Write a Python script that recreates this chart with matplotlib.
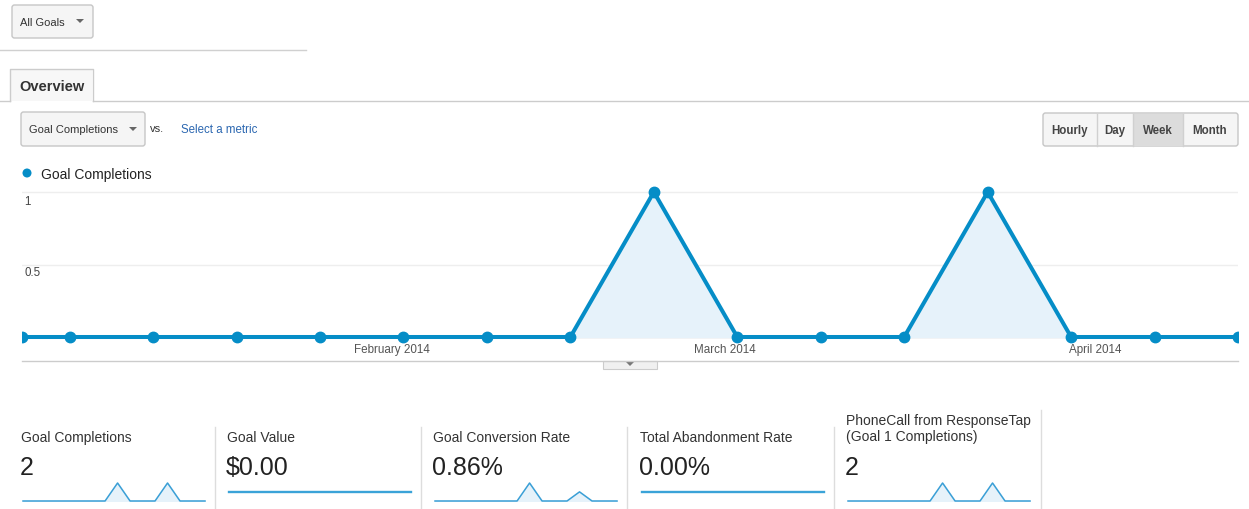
import matplotlib
matplotlib.use('Agg')
import matplotlib.pyplot as plt
from matplotlib.patches import FancyBboxPatch, Rectangle, Polygon, Circle
import pandas as pd

W, H = 1249, 510
DY = 1  # small vertical nudge in pixels

# weekly data (first point is the partial week starting Jan 1)
weeks = pd.to_datetime(['2014-01-01', '2014-01-05', '2014-01-12', '2014-01-19',
                        '2014-01-26', '2014-02-02', '2014-02-09', '2014-02-16',
                        '2014-02-23', '2014-03-02', '2014-03-09', '2014-03-16',
                        '2014-03-23', '2014-03-30', '2014-04-06', '2014-04-13'])
goal_completions = [0, 0, 0, 0, 0, 0, 0, 0, 1, 0, 0, 0, 1, 0, 0, 0]
goal_value = [0] * 16
conversion_rate = [0, 0, 0, 0, 0, 0, 0, 0, 6.7, 0, 0, 0, 3.4, 0, 0, 0]
abandonment_rate = [0] * 16
phone_calls = [0, 0, 0, 0, 0, 0, 0, 0, 1, 0, 0, 0, 1, 0, 0, 0]

month_ticks = pd.to_datetime(['2014-02-01', '2014-03-01', '2014-04-01'])
month_labels = ['February 2014', 'March 2014', 'April 2014']

card_titles = ['Goal Completions', 'Goal Value', 'Goal Conversion Rate',
               'Total Abandonment Rate', 'PhoneCall from ResponseTap\n(Goal 1 Completions)']
card_values = ['2', '$0.00', '0.86%', '0.00%', '2']
card_series = [goal_completions, goal_value, conversion_rate, abandonment_rate, phone_calls]

plt.rcParams['font.family'] = ['Liberation Sans', 'DejaVu Sans']

BLUE = '#058dc7'
FILL = '#e6f2fa'

fig = plt.figure(figsize=(W / 100, H / 100), dpi=100)


def px_axes(x0, y0, x1, y1):
    return fig.add_axes([x0 / W, 1 - (y1 + DY) / H, (x1 - x0) / W, (y1 - y0) / H])


bg = fig.add_axes([0, 0, 1, 1])
bg.set_xlim(0, W)
bg.set_ylim(H - DY, -DY)
bg.axis('off')


def box(x0, y0, x1, y1, fc='#f5f5f5', ec='#c6c6c6', r=2.5):
    bg.add_patch(FancyBboxPatch((x0, y0), x1 - x0, y1 - y0,
                                boxstyle=f'round,pad=0,rounding_size={r}',
                                fc=fc, ec=ec, lw=1))


def arrow(x, y, c='#666666'):
    bg.add_patch(Polygon([(x - 4, y - 2), (x + 4, y - 2), (x, y + 2)], fc=c, ec='none'))


# top controls
box(12, 5, 93, 38)
bg.text(20, 21.5, 'All Goals', fontsize=8, color='#333333', va='center')
arrow(80, 21)
bg.plot([0, 306], [50, 50], color='#d0d0d0', lw=1)

# Overview tab
bg.plot([0, 10], [101, 101], color='#cccccc', lw=1)
bg.plot([93, W], [101, 101], color='#cccccc', lw=1)
bg.plot([10, 10, 93, 93], [101, 69, 69, 101], color='#cccccc', lw=1)
bg.add_patch(Rectangle((10.5, 69.5), 82, 31.5, fc='#f7f7f7', ec='none'))
bg.text(19, 86, 'Overview', fontsize=10.5, fontweight='bold', color='#333333', va='center')

# metric selector
box(21, 112, 145, 146)
bg.text(29, 129.5, 'Goal Completions', fontsize=8, color='#333333', va='center')
arrow(133, 129)
bg.text(150, 128, 'vs.', fontsize=8, color='#333333', va='center')
bg.text(181, 129.5, 'Select a metric', fontsize=8.3, color='#2a66b0', va='center')

# time buttons
box(1043, 113, 1238, 146)
bg.add_patch(Rectangle((1133, 113.5), 50, 32, fc='#dcdcdc', ec='none'))
for xs in [1097, 1133, 1183]:
    bg.plot([xs, xs], [113.5, 145.5], color='#d0d0d0', lw=1)
for label, cx in zip(['Hourly', 'Day', 'Week', 'Month'], [1070, 1115, 1158, 1210]):
    bg.text(cx, 130, label, fontsize=8.3, fontweight='bold', color='#444444',
            ha='center', va='center')

# legend
bg.add_patch(Circle((27, 173), 4.5, fc=BLUE, ec='none'))
bg.text(41, 174, 'Goal Completions', fontsize=10, color='#222222', va='center')

# bottom border of chart + toggle tab
bg.plot([22, 1238], [361, 361], color='#cccccc', lw=1)
bg.add_patch(Rectangle((603, 361), 54, 8, fc='#f0f0f0', ec='#cccccc', lw=0.8))
arrow(630, 364, '#777777')

# main chart
ax = px_axes(22, 182, 1238, 347)
ax.set_facecolor('none')
ax.set_xlim(weeks[0], weeks[-1])
ax.set_ylim(-10 / 145, 1 + 10 / 145)
ax.axhline(1, color='#eeeeee', lw=1, zorder=0)
ax.axhline(0.5, color='#eeeeee', lw=1, zorder=0)
ax.axhline(0, color='#444444', lw=0.8, zorder=1)
ax.fill_between(weeks, goal_completions, color=FILL, zorder=1)
ax.plot(weeks, goal_completions, color=BLUE, lw=2.9, marker='o', ms=7.5,
        solid_joinstyle='miter', zorder=3)
ax.text(0.002, 1 - 9 / 145, '1', transform=ax.get_yaxis_transform(),
        fontsize=8.3, color='#444444', va='center')
ax.text(0.002, 0.5 - 8 / 145, '0.5', transform=ax.get_yaxis_transform(),
        fontsize=8.3, color='#444444', va='center')
for d, lab in zip(month_ticks, month_labels):
    ax.text(d, -12 / 145, lab, fontsize=8.4, color='#555555', ha='center',
            va='center', clip_on=False)
ax.axis('off')

# scorecards
card_x = [21, 227, 433, 640, 846]
for xs in [215, 421, 627, 834]:
    bg.plot([xs, xs], [427, H], color='#dddddd', lw=1)
bg.plot([1041, 1041], [410, H], color='#dddddd', lw=1)

for i, (title, value, series) in enumerate(zip(card_titles, card_values, card_series)):
    x = card_x[i]
    if '\n' in title:
        bg.text(x, 428, title, fontsize=10, color='#333333', va='center',
                linespacing=1.25)
    else:
        bg.text(x, 437.5, title, fontsize=10, color='#333333', va='center')
    bg.text(x - 1, 467, value, fontsize=18, color='#222222', va='center')

    sx = x + 2
    sp = px_axes(sx, 483, sx + 182, 501)
    sp.set_facecolor('none')
    sp.set_xlim(weeks[0], weeks[-1])
    if max(series) > 0:
        sp.set_ylim(0, max(series))
        sp.fill_between(weeks, series, color=FILL)
        sp.plot(weeks, series, color='#3a9fd6', lw=1.1, clip_on=False)
    else:
        sp.set_ylim(-1, 1)
        sp.plot(weeks, series, color='#3aa3d8', lw=1.7, clip_on=False)
    sp.axis('off')

fig.savefig('out.png', dpi=100)
